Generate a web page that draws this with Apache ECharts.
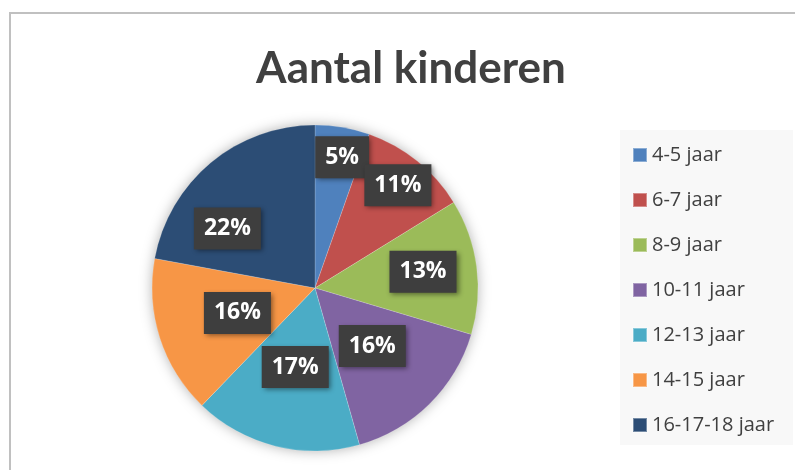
<!DOCTYPE html>
<html>
<head>
<meta charset="utf-8">
<script src="https://cdn.jsdelivr.net/npm/echarts@6/dist/echarts.min.js"></script>
<style>
  html, body { margin: 0; padding: 0; background: #fff; }
  #chart { width: 795px; height: 470px; }
</style>
</head>
<body>
<div id="chart"></div>
<script>
var categories = ['4-5 jaar', '6-7 jaar', '8-9 jaar', '10-11 jaar', '12-13 jaar', '14-15 jaar', '16-17-18 jaar']
var values = [5.4, 10.8, 13.4, 16.0, 16.6, 15.7, 22.1]
var colors = ['#4f81bd', '#c0504d', '#9bbb59', '#8064a2', '#4bacc6', '#f79646', '#2c4d75']

// label placement: [fraction of radius, angle shift in degrees]
var labelPlace = [[0.82, 2], [0.81, 0], [0.67, -1], [0.5, 0], [0.5, 0], [0.5, 0], [0.65, -16]]

var cx = 315, cy = 288, R = 163

var total = values.reduce(function (a, b) { return a + b }, 0)
var acc = 0
var mids = values.map(function (v) {
    var m = acc + v / 2
    acc += v
    return m / total * 360
})

var chart = echarts.init(document.getElementById('chart'))
var options = {
    animation: false,
    title: {
        text: 'Aantal kinderen',
        left: 406,
        textAlign: 'center',
        top: 42,
        textStyle: { fontFamily: 'Lato', fontWeight: 'bold', fontSize: 44, color: '#404040' }
    },
    legend: {
        orient: 'vertical',
        left: 632,
        top: 145,
        padding: 0,
        icon: 'rect',
        itemWidth: 14,
        itemHeight: 14,
        itemGap: 25,
        data: categories,
        textStyle: { fontFamily: 'Open Sans', fontSize: 20, lineHeight: 20, color: '#404040' }
    },
    graphic: [
        { type: 'rect', z: -10, shape: { x: 10, y: 13, width: 800, height: 500 },
          style: { fill: '#fff', stroke: '#c0c0c0', lineWidth: 2 } },
        { type: 'rect', z: -9, shape: { x: 620, y: 130, width: 173, height: 315 },
          style: { fill: '#f8f8f8' } },
        { type: 'circle', z: -8, shape: { cx: cx, cy: cy, r: R - 1 },
          style: { fill: '#fff', shadowBlur: 14, shadowColor: 'rgba(0,0,0,0.35)' } }
    ],
    series: [{
        type: 'pie',
        center: [cx, cy],
        radius: R,
        startAngle: 90,
        clockwise: true,
        silent: true,
        data: categories.map(function (c, i) {
            return { name: c, value: values[i], itemStyle: { color: colors[i] } }
        }),
        itemStyle: { borderColor: 'rgba(255,255,255,0.35)', borderWidth: 0.5 },
        label: {
            position: 'inside',
            formatter: function (p) { return Math.round(p.percent) + '%' },
            color: '#fff',
            fontFamily: 'Open Sans',
            fontWeight: 'bold',
            fontSize: 23,
            lineHeight: 23,
            backgroundColor: '#3e3e3e',
            padding: [10, 10, 9, 10],
            shadowColor: 'rgba(0,0,0,0.45)',
            shadowBlur: 5,
            shadowOffsetX: 2,
            shadowOffsetY: 2
        },
        labelLine: { show: false },
        labelLayout: function (p) {
            var i = p.dataIndex
            var a = (mids[i] + labelPlace[i][1]) * Math.PI / 180
            var r = R * labelPlace[i][0]
            return { x: cx + r * Math.sin(a), y: cy - r * Math.cos(a), align: 'center', verticalAlign: 'middle' }
        }
    }]
}
chart.setOption(options)
</script>
</body>
</html>
